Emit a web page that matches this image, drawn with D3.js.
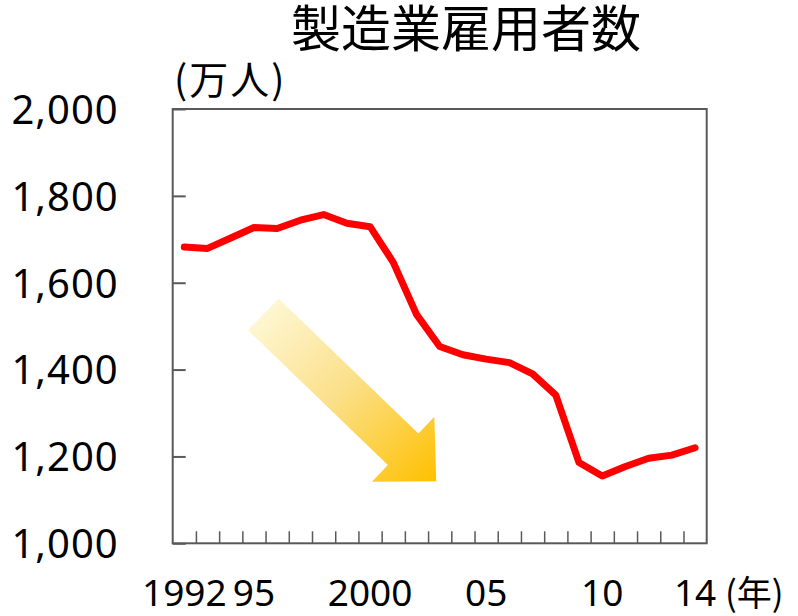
<!DOCTYPE html>
<html>
<head>
<meta charset="utf-8">
<script src="https://cdn.jsdelivr.net/npm/d3@7"></script>
<style>
  body { margin: 0; background: #fff; }
  svg { display: block; }
</style>
</head>
<body>
<svg id="chart"></svg>
<script>
const width = 798;
const height = 616;

// data
const years = d3.range(1992, 2015);
const employees = [1682, 1679, 1703, 1727, 1725, 1744, 1757, 1737, 1729, 1647,
    1527, 1453, 1434, 1424, 1416, 1390, 1341, 1186, 1155, 1177, 1196, 1203, 1220];
const labelYears = [1992, 1995, 2000, 2005, 2010, 2014];
const labelText = ["1992", "95", "2000", "05", "10", "14"];
const yTicks = [1000, 1200, 1400, 1600, 1800, 2000];
// trend arrow, from tail to tip, in (year, value)
const arrowFrom = [1995.4, 1527];
const arrowTo = [2002.85, 1143];

const margin = { top: 109, right: 91.3, bottom: 72.7, left: 172.7 };
const axisColor = "#595959";
const latin = "'Noto Sans', sans-serif";
const cjk = "'Noto Sans CJK JP', sans-serif";

const svg = d3.select("#chart")
    .attr("width", width)
    .attr("height", height);

svg.append("rect")
    .attr("width", width)
    .attr("height", height)
    .attr("fill", "#fff");

const x = d3.scaleLinear()
    .domain([years[0] - 0.5, years[years.length - 1] + 0.5])
    .range([margin.left, width - margin.right]);

const y = d3.scaleLinear()
    .domain([1000, 2000])
    .range([height - margin.bottom, margin.top]);

// gradient for the arrow
const grad = svg.append("defs")
    .append("linearGradient")
    .attr("id", "arrowGrad")
    .attr("x1", 0).attr("y1", 0)
    .attr("x2", 1).attr("y2", 1);
grad.append("stop").attr("offset", "0%").attr("stop-color", "#fffbe0");
grad.append("stop").attr("offset", "50%").attr("stop-color", "#fbe08a");
grad.append("stop").attr("offset", "100%").attr("stop-color", "#ffc000");

// arrow polygon built from tail / tip
function arrowPoints() {
    const x0 = x(arrowFrom[0]), y0 = y(arrowFrom[1]);
    const x1 = x(arrowTo[0]), y1 = y(arrowTo[1]);
    const len = Math.hypot(x1 - x0, y1 - y0);
    const ux = (x1 - x0) / len, uy = (y1 - y0) / len;
    const nx = uy, ny = -ux;
    const shaftW = 22, headW = 45, headL = 46;
    const bx = x1 - ux * headL, by = y1 - uy * headL;
    const pts = [
        [x0 + nx * shaftW, y0 + ny * shaftW],
        [bx + nx * shaftW, by + ny * shaftW],
        [bx + nx * headW, by + ny * headW],
        [x1, y1],
        [bx - nx * headW, by - ny * headW],
        [bx - nx * shaftW, by - ny * shaftW],
        [x0 - nx * shaftW, y0 - ny * shaftW]
    ];
    return pts.map(p => p.join(",")).join(" ");
}

svg.append("polygon")
    .attr("points", arrowPoints())
    .attr("fill", "url(#arrowGrad)");

// frame
svg.append("rect")
    .attr("x", margin.left)
    .attr("y", margin.top)
    .attr("width", width - margin.left - margin.right)
    .attr("height", height - margin.top - margin.bottom)
    .attr("fill", "none")
    .attr("stroke", axisColor)
    .attr("stroke-width", 2);

// y axis
const yAxis = svg.append("g")
    .attr("transform", "translate(" + margin.left + ",0)")
    .call(d3.axisLeft(y)
        .tickValues(yTicks)
        .tickSize(-13)
        .tickPadding(54)
        .tickFormat(d3.format(",")));
yAxis.select(".domain").remove();
yAxis.selectAll(".tick line")
    .attr("stroke", axisColor)
    .attr("stroke-width", 2);
yAxis.selectAll(".tick text")
    .attr("dy", "0.36em")
    .attr("fill", "#000")
    .style("font-family", latin)
    .style("font-size", "40px")
    .style("letter-spacing", "1px");

// x axis, ticks between categories
const xAxis = svg.append("g")
    .attr("transform", "translate(0," + (height - margin.bottom) + ")")
    .call(d3.axisBottom(x)
        .tickValues(years.slice(1).map(d => d - 0.5))
        .tickSize(-12)
        .tickFormat(""));
xAxis.select(".domain").remove();
xAxis.selectAll(".tick line")
    .attr("stroke", axisColor)
    .attr("stroke-width", 1.5);

svg.append("g")
    .selectAll("text")
    .data(labelYears)
    .enter()
    .append("text")
    .attr("x", d => x(d))
    .attr("y", 606)
    .attr("text-anchor", "middle")
    .style("font-family", latin)
    .style("font-size", "37px")
    .text((d, i) => labelText[i]);

// line
const line = d3.line()
    .x((d, i) => x(years[i]))
    .y(d => y(d));

svg.append("path")
    .datum(employees)
    .attr("d", line)
    .attr("fill", "none")
    .attr("stroke", "#ff0000")
    .attr("stroke-width", 7)
    .attr("stroke-linejoin", "round")
    .attr("stroke-linecap", "round");

// titles
svg.append("text")
    .attr("x", 466)
    .attr("y", 47)
    .attr("text-anchor", "middle")
    .style("font-family", cjk)
    .style("font-size", "50px")
    .text("製造業雇用者数");

svg.append("text")
    .attr("x", 174)
    .attr("y", 94)
    .style("font-family", cjk)
    .style("font-size", "39px")
    .style("letter-spacing", "2px")
    .text("(万人)");

svg.append("text")
    .attr("x", 725)
    .attr("y", 606)
    .style("font-family", cjk)
    .style("font-size", "35px")
    .text("(年)");
</script>
</body>
</html>
